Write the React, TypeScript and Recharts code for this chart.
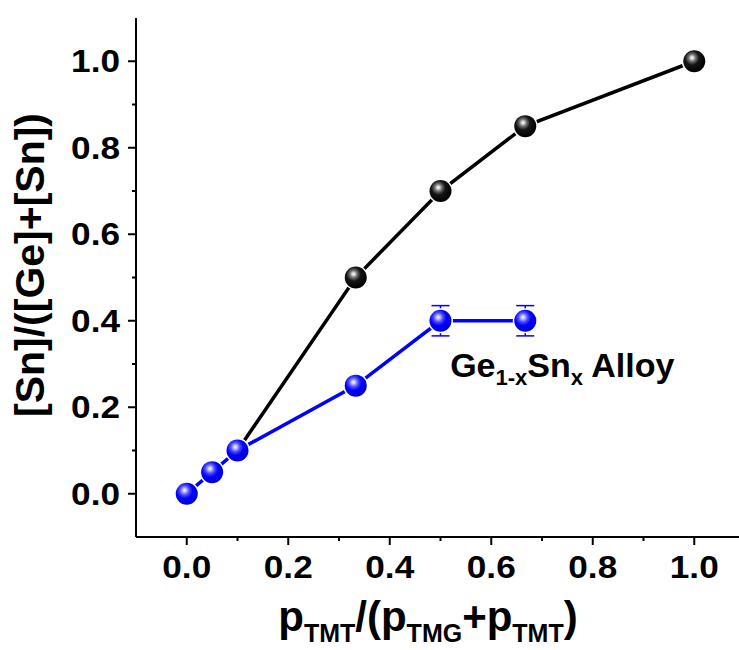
import { LineChart, Line, XAxis, YAxis, ErrorBar, ReferenceDot } from 'recharts'

// gas-phase ratio p_TMT/(p_TMG+p_TMT)
const precursorX = [0.1, 0.333, 0.5, 0.667, 1.0]
const precursorY = [0.1, 0.5, 0.7, 0.85, 1.0]

// measured Sn fraction in the Ge1-xSn x alloy
const alloyX = [0, 0.05, 0.1, 0.333, 0.5, 0.667]
const alloyY = [0, 0.05, 0.1, 0.25, 0.4, 0.4]
const alloyErr = [0, 0.008, 0.008, 0, 0.035, 0.035]

const xTicks = [0, 0.1, 0.2, 0.3, 0.4, 0.5, 0.6, 0.7, 0.8, 0.9, 1.0]
const yTicks = [0, 0.1, 0.2, 0.3, 0.4, 0.5, 0.6, 0.7, 0.8, 0.9, 1.0]
const majorTicks = ['0.0', '0.2', '0.4', '0.6', '0.8', '1.0']

const precursorData = precursorX.map((x, i) => ({ x, y: precursorY[i] }))
const alloyData = alloyX.map((x, i) => ({ x, y: alloyY[i], err: alloyErr[i] }))

const FONT = '"Liberation Sans", Arial, sans-serif'

const sphereStops: Record<string, [string, string][]> = {
  black: [['0%', '#ffffff'], ['10%', '#d8d8d8'], ['26%', '#707070'], ['50%', '#151515'], ['100%', '#000000']],
  blue: [['0%', '#ffffff'], ['13%', '#c0c0ff'], ['34%', '#4a4aff'], ['58%', '#0000ff'], ['100%', '#0000cc']],
}

function sphere(kind: string) {
  return (props: any) => {
    const { cx, cy, index } = props
    if (cx == null || cy == null) return <g key={`${kind}-${index}`} />
    const id = `${kind}-sphere-${index}`
    return (
      <g key={id}>
        <defs>
          <radialGradient id={id} cx="40%" cy="36%" r="64%" fx="40%" fy="34%">
            {sphereStops[kind].map(([o, c]) => (
              <stop key={o} offset={o} stopColor={c} />
            ))}
          </radialGradient>
        </defs>
        <circle cx={cx} cy={cy} r={11} fill={`url(#${id})`} stroke="#fff" strokeWidth={3} paintOrder="stroke" />
      </g>
    )
  }
}

const label = (v: number) => v.toFixed(1)

function XTick(props: any) {
  const { x, y, payload } = props
  const major = majorTicks.includes(label(payload.value))
  return (
    <g>
      <line x1={x} x2={x} y1={y} y2={y + (major ? 8 : 4)} stroke="#000" strokeWidth={2} />
      {major && (
        <text
          transform={`translate(${x} ${y + 41}) scale(1.1 1)`}
          textAnchor="middle"
          fontFamily={FONT}
          fontWeight="bold"
          fontSize={32}
          fill="#000"
        >
          {label(payload.value)}
        </text>
      )}
    </g>
  )
}

function YTick(props: any) {
  const { x, y, payload } = props
  const major = majorTicks.includes(label(payload.value))
  return (
    <g>
      <line x1={x} x2={x - (major ? 8 : 4)} y1={y} y2={y} stroke="#000" strokeWidth={2} />
      {major && (
        <text
          transform={`translate(${x - 16} ${y + 11}) scale(1.1 1)`}
          textAnchor="end"
          fontFamily={FONT}
          fontWeight="bold"
          fontSize={32}
          fill="#000"
        >
          {label(payload.value)}
        </text>
      )}
    </g>
  )
}

function XTitle(props: any) {
  const { viewBox } = props
  const sub = { fontSize: 25 }
  return (
    <text x={viewBox.x + 292} y={viewBox.y + 94} textAnchor="middle" fontFamily={FONT} fontWeight="bold" fontSize={42} fill="#000">
      <tspan>p</tspan>
      <tspan {...sub} dy={11}>TMT</tspan>
      <tspan dy={-11}>/(p</tspan>
      <tspan {...sub} dy={11}>TMG</tspan>
      <tspan dy={-11}>+p</tspan>
      <tspan {...sub} dy={11}>TMT</tspan>
      <tspan dy={-11}>)</tspan>
    </text>
  )
}

function YTitle(props: any) {
  const { viewBox } = props
  const cx = viewBox.x + 44
  const cy = 265
  return (
    <text x={cx} y={cy} transform={`rotate(-90 ${cx} ${cy})`} textAnchor="middle" fontFamily={FONT} fontWeight="bold" fontSize={41} fill="#000">
      [Sn]/([Ge]+[Sn])
    </text>
  )
}

function AlloyNote(props: any) {
  const { viewBox } = props
  return (
    <text x={viewBox.x} y={viewBox.y} fontFamily={FONT} fontWeight="bold" fontSize={34} fill="#000">
      <tspan>Ge</tspan>
      <tspan fontSize={22} dy={8}>1-x</tspan>
      <tspan dy={-8}>Sn</tspan>
      <tspan fontSize={22} dy={8}>x</tspan>
      <tspan dy={-8}> Alloy</tspan>
    </text>
  )
}

export default function App() {
  return (
    <div style={{ position: 'absolute', left: 0, top: 0, width: 739, height: 650, overflow: 'hidden', background: '#fff' }}>
      <LineChart width={750} height={650} margin={{ top: 18, right: 5, bottom: 0, left: 0 }}>
        <XAxis
          dataKey="x"
          type="number"
          domain={[-0.1, 1.1]}
          ticks={xTicks}
          interval={0}
          allowDuplicatedCategory={false}
          tickSize={0}
          tickMargin={0}
          tick={<XTick />}
          axisLine={{ stroke: '#000', strokeWidth: 2 }}
          height={113}
          label={XTitle}
        />
        <XAxis
          xAxisId="top"
          orientation="top"
          dataKey="x"
          type="number"
          domain={[-0.1, 1.1]}
          height={0}
          tick={false}
          tickLine={false}
          axisLine={{ stroke: '#444', strokeWidth: 2 }}
        />
        <YAxis
          type="number"
          domain={[-0.1, 1.1]}
          ticks={yTicks}
          interval={0}
          width={136}
          tickSize={0}
          tickMargin={0}
          tick={<YTick />}
          axisLine={{ stroke: '#000', strokeWidth: 2 }}
          label={YTitle}
        />
        <Line
          data={precursorData}
          dataKey="y"
          stroke="#000"
          strokeWidth={3.5}
          dot={sphere('black')}
          activeDot={false}
          isAnimationActive={false}
        />
        <Line
          data={alloyData}
          dataKey="y"
          stroke="#0000ff"
          strokeWidth={3.5}
          dot={sphere('blue')}
          activeDot={false}
          isAnimationActive={false}
        >
          <ErrorBar dataKey="err" direction="y" width={9} stroke="#0000ff" strokeWidth={1.5} />
        </Line>
        <ReferenceDot x={0.519} y={0.27} r={0} fill="none" stroke="none" label={AlloyNote} />
      </LineChart>
    </div>
  )
}
